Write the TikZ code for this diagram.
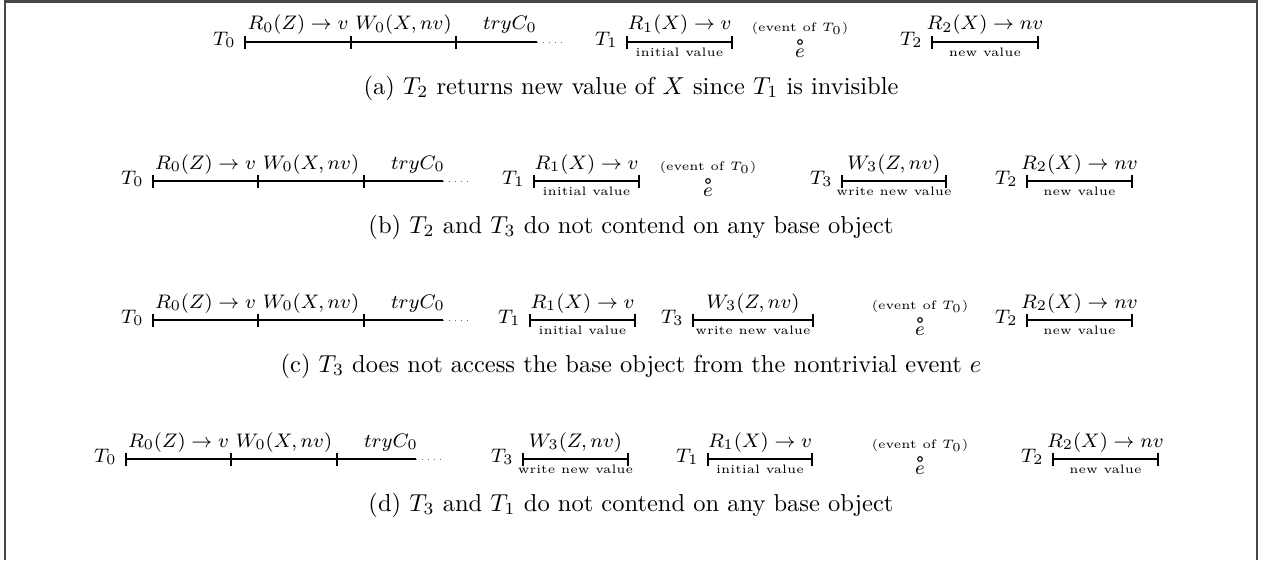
\documentclass[tikz,border=0pt]{standalone}
\usetikzlibrary{arrows.meta}
\begin{document}
\begin{tikzpicture}[x=0.4082pt,y=-0.4082pt,
  tl/.style={line width=0.8pt},
  op/.style={font=\footnotesize, anchor=base, inner sep=0pt},
  sublbl/.style={font=\tiny, anchor=base, inner sep=0pt},
  tname/.style={font=\footnotesize, anchor=base east, inner sep=0pt},
  capt/.style={font=\normalsize, anchor=base, inner sep=0pt},
  dotsty/.style={dotted, line width=0.4pt, black!60},
  evt/.style={circle, draw, line width=0.45pt, inner sep=0pt, minimum size=1.9pt},
  frm/.style={line width=0.9pt, black!72}]
\useasboundingbox (0,0) rectangle (1263,560);
% frame
\coordinate (fbl) at (5,560); \coordinate (ftl) at (5,1.5);
\coordinate (ftr) at (1257,1.5); \coordinate (fbr) at (1257,560);
\draw[frm] (fbl) -- (ftl) -- (ftr) -- (fbr);

% ================= row (a) =================
\coordinate (a00) at (245,42); \coordinate (a01) at (351,42);
\coordinate (a02) at (456,42); \coordinate (a03) at (537,42);
\coordinate (a04) at (561,42);
\draw[tl] (a00) -- (a03);
\foreach \p in {a00,a01,a02} \draw[tl] (\p) ++(0,-6.5) -- ++(0,13);
\draw[dotsty] (a03) -- (a04);
\node[tname] (aT0) at (236,45) {$T_0$};
\node[op] (aR0) at (298,30) {$R_0(Z)\rightarrow v$};
\node[op] (aW0) at (403.5,30) {$W_0(X,nv)$};
\node[op] (aC0) at (510,30) {$tryC_0$};
\coordinate (a10) at (627,42); \coordinate (a11) at (732,42);
\draw[tl] (a10) -- (a11);
\foreach \p in {a10,a11} \draw[tl] (\p) ++(0,-6.5) -- ++(0,13);
\node[tname] (aT1) at (618,45) {$T_1$};
\node[op] (aR1) at (679.5,30) {$R_1(X)\rightarrow v$};
\node[sublbl] (aI1) at (679.5,56) {initial value};
\node[sublbl] (aEv) at (800,31) {(event of $T_0$)};
\node[evt] (ae) at (800,42) {};
\node[op] (aeL) at (800,57) {$e$};
\coordinate (a20) at (932,42); \coordinate (a21) at (1038,42);
\draw[tl] (a20) -- (a21);
\foreach \p in {a20,a21} \draw[tl] (\p) ++(0,-6.5) -- ++(0,13);
\node[tname] (aT2) at (923,45) {$T_2$};
\node[op] (aR2) at (985,30) {$R_2(X)\rightarrow nv$};
\node[sublbl] (aN2) at (985,56) {new value};
\node[capt] (capa) at (631,94) {(a) $T_2$ returns new value of $X$ since $T_1$ is invisible};

% ================= row (b) =================
\coordinate (b00) at (153,181); \coordinate (b01) at (258,181);
\coordinate (b02) at (364,181); \coordinate (b03) at (443,181);
\coordinate (b04) at (467,181);
\draw[tl] (b00) -- (b03);
\foreach \p in {b00,b01,b02} \draw[tl] (\p) ++(0,-6.5) -- ++(0,13);
\draw[dotsty] (b03) -- (b04);
\node[tname] (bT0) at (144,184) {$T_0$};
\node[op] (bR0) at (205.5,169) {$R_0(Z)\rightarrow v$};
\node[op] (bW0) at (311,169) {$W_0(X,nv)$};
\node[op] (bC0) at (418,169) {$tryC_0$};
\coordinate (b10) at (534,181); \coordinate (b11) at (639,181);
\draw[tl] (b10) -- (b11);
\foreach \p in {b10,b11} \draw[tl] (\p) ++(0,-6.5) -- ++(0,13);
\node[tname] (bT1) at (525,184) {$T_1$};
\node[op] (bR1) at (586.5,169) {$R_1(X)\rightarrow v$};
\node[sublbl] (bI1) at (586.5,195) {initial value};
\node[sublbl] (bEv) at (708,170) {(event of $T_0$)};
\node[evt] (be) at (708,181) {};
\node[op] (beL) at (708,196) {$e$};
\coordinate (b30) at (842,181); \coordinate (b31) at (946,181);
\draw[tl] (b30) -- (b31);
\foreach \p in {b30,b31} \draw[tl] (\p) ++(0,-6.5) -- ++(0,13);
\node[tname] (bT3) at (833,184) {$T_3$};
\node[op] (bW3) at (894,169) {$W_3(Z,nv)$};
\node[sublbl] (bN3) at (894,195) {write new value};
\coordinate (b20) at (1027,181); \coordinate (b21) at (1132,181);
\draw[tl] (b20) -- (b21);
\foreach \p in {b20,b21} \draw[tl] (\p) ++(0,-6.5) -- ++(0,13);
\node[tname] (bT2) at (1018,184) {$T_2$};
\node[op] (bR2) at (1079.5,169) {$R_2(X)\rightarrow nv$};
\node[sublbl] (bN2) at (1079.5,195) {new value};
\node[capt] (capb) at (631,233) {(b) $T_2$ and $T_3$ do not contend on any base object};

% ================= row (c) =================
\coordinate (c00) at (153,320); \coordinate (c01) at (258,320);
\coordinate (c02) at (364,320); \coordinate (c03) at (443,320);
\coordinate (c04) at (467,320);
\draw[tl] (c00) -- (c03);
\foreach \p in {c00,c01,c02} \draw[tl] (\p) ++(0,-6.5) -- ++(0,13);
\draw[dotsty] (c03) -- (c04);
\node[tname] (cT0) at (144,323) {$T_0$};
\node[op] (cR0) at (205.5,308) {$R_0(Z)\rightarrow v$};
\node[op] (cW0) at (311,308) {$W_0(X,nv)$};
\node[op] (cC0) at (418,308) {$tryC_0$};
\coordinate (c10) at (530,320); \coordinate (c11) at (635,320);
\draw[tl] (c10) -- (c11);
\foreach \p in {c10,c11} \draw[tl] (\p) ++(0,-6.5) -- ++(0,13);
\node[tname] (cT1) at (521,323) {$T_1$};
\node[op] (cR1) at (582.5,308) {$R_1(X)\rightarrow v$};
\node[sublbl] (cI1) at (582.5,334) {initial value};
\coordinate (c30) at (693,320); \coordinate (c31) at (813,320);
\draw[tl] (c30) -- (c31);
\foreach \p in {c30,c31} \draw[tl] (\p) ++(0,-6.5) -- ++(0,13);
\node[tname] (cT3) at (684,323) {$T_3$};
\node[op] (cW3) at (753,308) {$W_3(Z,nv)$};
\node[sublbl] (cN3) at (753,334) {write new value};
\node[sublbl] (cEv) at (920,309) {(event of $T_0$)};
\node[evt] (ce) at (920,320) {};
\node[op] (ceL) at (920,335) {$e$};
\coordinate (c20) at (1027,320); \coordinate (c21) at (1132,320);
\draw[tl] (c20) -- (c21);
\foreach \p in {c20,c21} \draw[tl] (\p) ++(0,-6.5) -- ++(0,13);
\node[tname] (cT2) at (1018,323) {$T_2$};
\node[op] (cR2) at (1079.5,308) {$R_2(X)\rightarrow nv$};
\node[sublbl] (cN2) at (1079.5,334) {new value};
\node[capt] (capc) at (631,372) {(c) $T_3$ does not access the base object from the nontrivial event $e$};

% ================= row (d) =================
\coordinate (d00) at (126,459); \coordinate (d01) at (231,459);
\coordinate (d02) at (337,459); \coordinate (d03) at (416,459);
\coordinate (d04) at (440,459);
\draw[tl] (d00) -- (d03);
\foreach \p in {d00,d01,d02} \draw[tl] (\p) ++(0,-6.5) -- ++(0,13);
\draw[dotsty] (d03) -- (d04);
\node[tname] (dT0) at (117,462) {$T_0$};
\node[op] (dR0) at (178.5,447) {$R_0(Z)\rightarrow v$};
\node[op] (dW0) at (284,447) {$W_0(X,nv)$};
\node[op] (dC0) at (391,447) {$tryC_0$};
\coordinate (d30) at (523,459); \coordinate (d31) at (628,459);
\draw[tl] (d30) -- (d31);
\foreach \p in {d30,d31} \draw[tl] (\p) ++(0,-6.5) -- ++(0,13);
\node[tname] (dT3) at (514,462) {$T_3$};
\node[op] (dW3) at (575.5,447) {$W_3(Z,nv)$};
\node[sublbl] (dN3) at (575.5,473) {write new value};
\coordinate (d10) at (708,459); \coordinate (d11) at (812,459);
\draw[tl] (d10) -- (d11);
\foreach \p in {d10,d11} \draw[tl] (\p) ++(0,-6.5) -- ++(0,13);
\node[tname] (dT1) at (699,462) {$T_1$};
\node[op] (dR1) at (760,447) {$R_1(X)\rightarrow v$};
\node[sublbl] (dI1) at (760,473) {initial value};
\node[sublbl] (dEv) at (920,448) {(event of $T_0$)};
\node[evt] (de) at (920,459) {};
\node[op] (deL) at (920,474) {$e$};
\coordinate (d20) at (1053,459); \coordinate (d21) at (1158,459);
\draw[tl] (d20) -- (d21);
\foreach \p in {d20,d21} \draw[tl] (\p) ++(0,-6.5) -- ++(0,13);
\node[tname] (dT2) at (1044,462) {$T_2$};
\node[op] (dR2) at (1105.5,447) {$R_2(X)\rightarrow nv$};
\node[sublbl] (dN2) at (1105.5,473) {new value};
\node[capt] (capd) at (631,511) {(d) $T_3$ and $T_1$ do not contend on any base object};
\end{tikzpicture}
\end{document}
